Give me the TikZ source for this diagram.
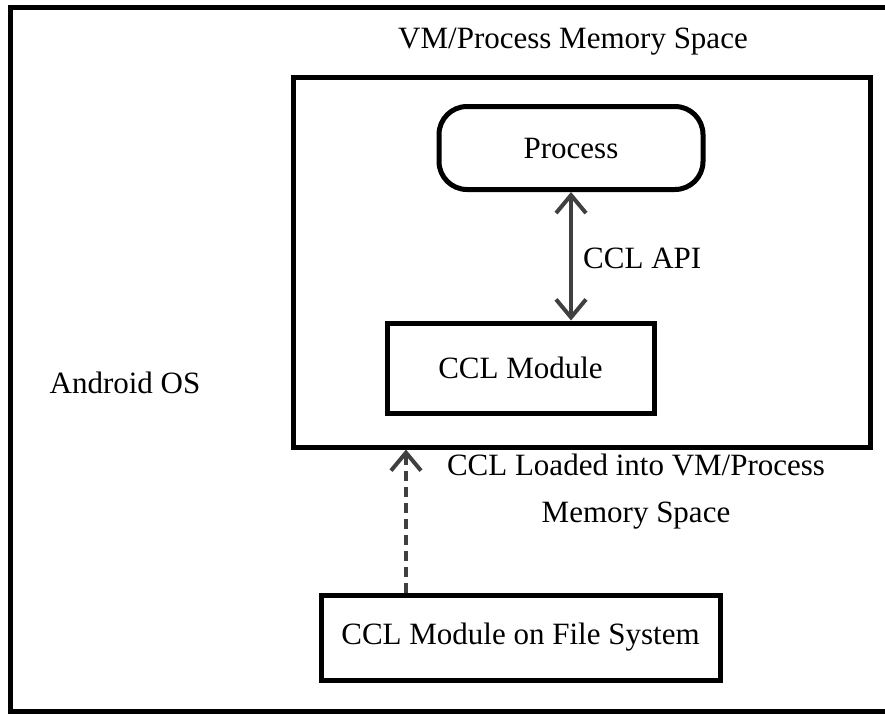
\documentclass[tikz,border=0pt]{standalone}
\usepackage{fontspec}
\setmainfont{Liberation Serif}
\usetikzlibrary{arrows.meta}
\definecolor{arrowgray}{HTML}{404040}
\begin{document}
\begin{tikzpicture}[x=1pt,y=-1pt,
            frame/.style={draw=black, line width=5pt},
            box/.style={rectangle, draw=black, line width=5pt, inner sep=0pt, font=\fontsize{31}{37}\selectfont},
            procbox/.style={box, rounded corners=28pt},
            label/.style={inner sep=0pt, font=\fontsize{31}{37}\selectfont},
            link/.style={draw=arrowgray, line width=4pt, {Straight Barb[length=18pt,width=30pt,line width=4pt]}-{Straight Barb[length=18pt,width=30pt,line width=4pt]}},
            load/.style={draw=arrowgray, line width=4pt, dash pattern=on 10pt off 6pt, -{Straight Barb[length=18pt,width=30pt,line width=4pt]}},
        ]
            \useasboundingbox (0,0) rectangle (885,713);
            \draw[frame] (900,7.5) -- (10.5,7.5) -- (10.5,711) -- (900,711);
            \node[box, minimum width=577pt, minimum height=370pt](mem) at (582,262) {};
            \node[label](memtitle) at (573,42) {VM/Process Memory Space};
            \node[label](os) at (125,383) {Android OS};
            \node[procbox, minimum width=264pt, minimum height=83pt](proc) at (571,148) {Process};
            \node[box, minimum width=267pt, minimum height=90pt](module) at (520.5,368) {CCL Module};
            \node[box, minimum width=399pt, minimum height=85pt](file) at (520.5,637.5) {CCL Module on File System};
            \node[label, anchor=west](api) at (583,258) {CCL API};
            \node[label, align=center, font=\fontsize{31}{47}\selectfont](loadtext) at (636,492) {CCL Loaded into VM/Process\\Memory Space};
            \draw[link] (proc.south) -- (proc.south |- module.north);
            \draw[load] ([xshift=-114.5pt]file.north) -- ([xshift=-114.5pt]file.north |- mem.south);
        \end{tikzpicture}
\end{document}
